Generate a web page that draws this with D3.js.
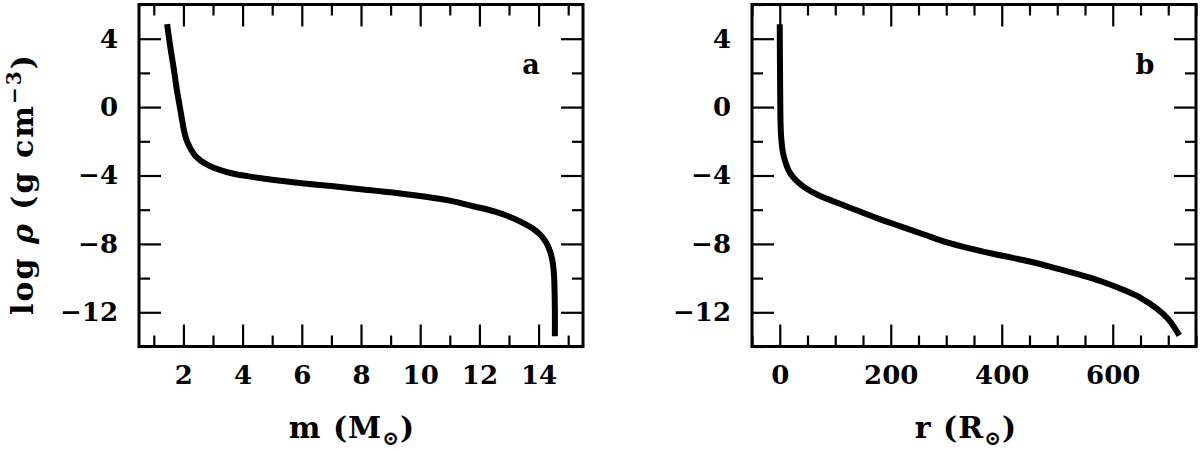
<!DOCTYPE html>
<html>
<head>
<meta charset="utf-8">
<script src="https://cdn.jsdelivr.net/npm/d3@7/dist/d3.min.js"></script>
<style>
  html, body { margin: 0; padding: 0; background: #fff; }
  svg { display: block; }
</style>
</head>
<body>
<svg id="chart" width="1200" height="451"></svg>
<script>
// ---- data ----
const massValues = [1.45, 1.55, 1.67, 1.78, 1.88, 1.95, 2.0, 2.1, 2.23, 2.4, 2.6, 2.9, 3.25, 3.7, 4.2, 5.0, 6.0, 7.0, 8.0, 9.0, 10.0, 11.0, 11.8, 12.5, 13.0, 13.5, 13.8, 14.05, 14.25, 14.38, 14.47, 14.52, 14.54, 14.55, 14.55];
const rhoVsMass   = [4.85, 3.6, 2.3, 1.0, 0.0, -0.7, -1.2, -1.9, -2.4, -2.85, -3.15, -3.45, -3.68, -3.9, -4.05, -4.25, -4.45, -4.62, -4.8, -4.98, -5.2, -5.47, -5.8, -6.1, -6.4, -6.8, -7.1, -7.45, -7.9, -8.4, -9.0, -9.8, -10.8, -12.0, -13.4];

const radiusValues = [0, 0.5, 1, 1.5, 3, 6, 10, 16, 24, 35, 50, 70, 100, 140, 180, 220, 260, 300, 340, 380, 420, 460, 500, 540, 580, 620, 650, 680, 700, 720];
const rhoVsRadius  = [4.85, 2.0, 0.0, -1.0, -1.95, -2.7, -3.2, -3.7, -4.1, -4.45, -4.8, -5.15, -5.55, -6.05, -6.55, -7.0, -7.45, -7.9, -8.25, -8.55, -8.82, -9.1, -9.45, -9.8, -10.2, -10.7, -11.15, -11.8, -12.4, -13.35];

const yMajorTicks = [-12, -8, -4, 0, 4];
const yMinorTicks = [-14, -10, -6, -2, 2, 6];
const massMajorTicks = [2, 4, 6, 8, 10, 12, 14];
const massMinorTicks = [1, 3, 5, 7, 9, 11, 13, 15];
const radiusMajorTicks = [0, 200, 400, 600];
const radiusMinorTicks = [-50, 50, 100, 150, 250, 300, 350, 450, 500, 550, 650, 700, 750];

const massDomain = [0.5, 15.5];
const radiusDomain = [-50, 750];
const rhoDomain = [-14, 6];

// ---- layout ----
const svg = d3.select("#chart");
const plotTop = 4.5, plotBottom = 346.5;
const FONT = "'DejaVu Serif', serif";

const y = d3.scaleLinear().domain(rhoDomain).range([plotBottom, plotTop]);

function panel(x0, x1, xDomain, xMajor, xMinor, xs, ys, letter, letterX, titleStart, titleX) {
  const x = d3.scaleLinear().domain(xDomain).range([x0, x1]);
  const g = svg.append("g");
  const H = plotBottom - plotTop, W = x1 - x0;
  const MAJ = 22, MIN = 11;

  function addAxis(axis, transform, ticks, size, pad) {
    const a = g.append("g").attr("transform", transform)
      .call(axis.tickValues(ticks).tickSizeInner(-size).tickSizeOuter(0)
        .tickPadding(pad)
        .tickFormat(pad > 0 ? d3.format("") : () => ""));
    a.select(".domain").remove();
    a.selectAll(".tick line").attr("stroke", "#000").attr("stroke-width", 2.2);
    a.selectAll(".tick text").attr("font-family", FONT).attr("font-size", 26)
      .attr("font-weight", "bold").attr("fill", "#000");
    return a;
  }
  addAxis(d3.axisBottom(x), `translate(0,${plotBottom})`, xMajor, MAJ, 19);
  addAxis(d3.axisBottom(x), `translate(0,${plotBottom})`, xMinor, MIN, 0);
  addAxis(d3.axisTop(x), `translate(0,${plotTop})`, xMajor, MAJ, 0);
  addAxis(d3.axisTop(x), `translate(0,${plotTop})`, xMinor, MIN, 0);
  addAxis(d3.axisLeft(y), `translate(${x0},0)`, yMajorTicks, MAJ, 21);
  addAxis(d3.axisLeft(y), `translate(${x0},0)`, yMinorTicks, MIN, 0);
  addAxis(d3.axisRight(y), `translate(${x1},0)`, yMajorTicks, MAJ, 0);
  addAxis(d3.axisRight(y), `translate(${x1},0)`, yMinorTicks, MIN, 0);

  g.append("rect").attr("x", x0).attr("y", plotTop).attr("width", W).attr("height", H)
    .attr("fill", "none").attr("stroke", "#000").attr("stroke-width", 3);

  const pts = xs.map((v, i) => [v, ys[i]]);
  g.append("path").datum(pts)
    .attr("d", d3.line().x(d => x(d[0])).y(d => y(d[1])).curve(d3.curveCatmullRom.alpha(0.5)))
    .attr("fill", "none").attr("stroke", "#000").attr("stroke-width", 6)
    .attr("stroke-linejoin", "round");

  g.append("text").attr("x", letterX).attr("y", 74).attr("text-anchor", "middle")
    .attr("font-family", FONT).attr("font-size", 27).attr("font-weight", "bold").text(letter);

  const t = g.append("text").attr("x", titleX).attr("y", 438).attr("text-anchor", "middle")
    .attr("font-family", FONT).attr("font-size", 30).attr("font-weight", "bold")
    .attr("letter-spacing", 1);
  t.append("tspan").text(titleStart);
  t.append("tspan").attr("font-size", 20).attr("dy", 7).text("\u2299");
  t.append("tspan").attr("dy", -7).text(")");
}

panel(139, 583, massDomain, massMajorTicks, massMinorTicks, massValues, rhoVsMass, "a", 531, "m (M", 352);
panel(752, 1196, radiusDomain, radiusMajorTicks, radiusMinorTicks, radiusValues, rhoVsRadius, "b", 1145, "r (R", 966);

const yt = svg.append("text").attr("transform", "translate(33,184) rotate(-90)")
  .attr("text-anchor", "middle").attr("font-family", FONT).attr("font-size", 30).attr("font-weight", "bold")
  .attr("letter-spacing", 2);
yt.append("tspan").text("log ");
yt.append("tspan").attr("font-style", "italic").text("\u03C1");
yt.append("tspan").text("  (g cm");
yt.append("tspan").attr("font-size", 20).attr("dy", -12).text("\u22123");
yt.append("tspan").attr("dy", 12).text(")");
</script>
</body>
</html>
